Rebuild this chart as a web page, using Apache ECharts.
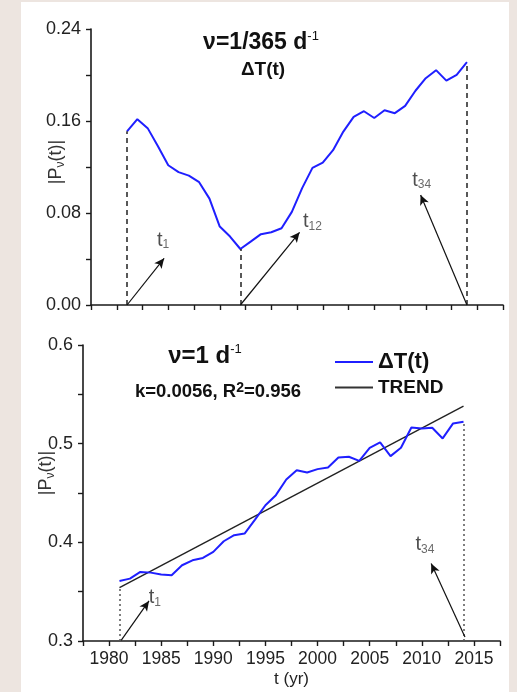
<!DOCTYPE html>
<html><head><meta charset="utf-8">
<script src="https://cdn.jsdelivr.net/npm/echarts@6/dist/echarts.min.js"></script>
<style>
html,body{margin:0;padding:0;background:#EDE5E0;overflow:hidden;}
#panel{position:absolute;left:21px;top:2px;width:488px;height:690px;background:#fff;}
#chart{position:absolute;left:0;top:0;width:517px;height:692px;}
</style></head><body><div id="panel"></div><div id="chart"></div>
<script>
const years = [1981,1982,1983,1984,1985,1986,1987,1988,1989,1990,1991,1992,1993,1994,1995,1996,1997,1998,1999,2000,2001,2002,2003,2004,2005,2006,2007,2008,2009,2010,2011,2012,2013,2014];
const annualAmp = [0.151,0.1616,0.1538,0.138,0.1215,0.1155,0.1125,0.1068,0.0925,0.0682,0.0595,0.0487,0.0551,0.0616,0.0633,0.0667,0.081,0.1016,0.1192,0.1238,0.1346,0.1508,0.1636,0.1685,0.1626,0.1693,0.1668,0.1731,0.1863,0.1972,0.2042,0.1951,0.2001,0.2112];
const dailyAmp = [0.3609,0.3632,0.370,0.3693,0.3673,0.3666,0.3768,0.3818,0.3842,0.3903,0.4011,0.4072,0.4089,0.4231,0.4376,0.4478,0.4637,0.4731,0.4708,0.4742,0.4759,0.486,0.4867,0.4826,0.4958,0.5012,0.4874,0.4958,0.5164,0.5154,0.5161,0.5053,0.5205,0.5222];
const trendYears = [1981, 2014];
const trendAmp = [0.354, 0.538];
// annotations: arrows [fromYear, fromValue, toYear, toValue]
const topArrows = [[1981,0,1984.6,0.0406],[1992,0,1997.75,0.0632],[2014,0,2009.5,0.0957]];
const topArrowLabels = [['1',1984.5,0.0565],['12',1999.0,0.0722],['34',2009.6,0.1087]];
const topMarkYears = [1981, 1992, 2014];
const botArrows = [[1981.16,0.3007,1983.83,0.3406],[2014.14,0.304,2010.9,0.3785]];
const botArrowLabels = [['1',1984.4,0.3443],['34',2010.3,0.398]];
const botMarkYears = [1981, 2014];
const botMarkTops = [trendAmp[0], dailyAmp[dailyAmp.length-1]];

const FONT = 'Liberation Sans, Arial, Helvetica, sans-serif';
const BLUE = '#1f1fff';
const AX = '#1a1a1a';

const chart = echarts.init(document.getElementById('chart'), null, {renderer:'canvas'});

function xAxis(gi, showLabels){
  return {
    type:'value', gridIndex:gi, min:1977.5, max:2017.5, interval:2.5,
    axisLine:{show:true, onZero:false, lineStyle:{color:AX, width:1.6}},
    axisTick:{show:true, length:5, lineStyle:{color:AX, width:1.4}},
    splitLine:{show:false},
    axisLabel:{show:showLabels, margin:9, color:'#222', fontSize:17.5, fontFamily:FONT,
      formatter:v => (Math.abs(v % 5) < 1e-6) ? String(Math.round(v)) : ''},
    name: showLabels ? 't (yr)' : '', nameLocation:'middle', nameGap:30,
    nameTextStyle:{color:'#222', fontSize:17, fontFamily:FONT}
  };
}

const markTop = topMarkYears.map(y => {
  const v = annualAmp[years.indexOf(y)];
  return [{coord:[y,0], symbol:'none', lineStyle:{type:[5,4], color:'#222', width:1.5}},
          {coord:[y,v], symbol:'none'}];
});
const arrowsTop = topArrows.map(a => [
  {coord:[a[0],a[1]], symbol:'none', lineStyle:{type:'solid', color:'#111', width:1.2}},
  {coord:[a[2],a[3]], symbol:'arrow'}]);
const markBot = botMarkYears.map((y,i) => [
  {coord:[y,0.3], symbol:'none', lineStyle:{type:[2,3], color:'#555', width:1.5}},
  {coord:[y,botMarkTops[i]], symbol:'none'}]);
const arrowsBot = botArrows.map(a => [
  {coord:[a[0],a[1]], symbol:'none', lineStyle:{type:'solid', color:'#111', width:1.2}},
  {coord:[a[2],a[3]], symbol:'arrow'}]);

const labelRich = {
  t:{fontSize:20, color:'#222', fontFamily:FONT, lineHeight:22},
  s:{fontSize:12, color:'#444', fontFamily:FONT, verticalAlign:'bottom', lineHeight:14, padding:[9,0,0,0]}
};
function labelSeries(xi, yi, arr){
  return {
    type:'scatter', xAxisIndex:xi, yAxisIndex:yi, symbolSize:0, silent:true,
    data: arr.map(l => ({value:[l[1], l[2]], sub:l[0]})),
    label:{show:true, position:'inside', formatter:p => '{t|t}{s|' + p.data.sub + '}', rich:labelRich}
  };
}

const option = {
  animation:false,
  grid:[{left:91, top:29, width:412, height:276}, {left:83, top:345, width:417, height:296}],
  xAxis:[xAxis(0,false), xAxis(1,true)],
  yAxis:[
    {type:'value', gridIndex:0, min:0, max:0.24, interval:0.04,
     axisLine:{show:true, lineStyle:{color:AX, width:1.6}},
     axisTick:{show:true, length:5, lineStyle:{color:AX, width:1.4}},
     splitLine:{show:false},
     axisLabel:{margin:10, color:'#222', fontSize:18, fontFamily:FONT,
       formatter:v => (Math.round(v*100) % 8 === 0) ? v.toFixed(2) : ''}},
    {type:'value', gridIndex:1, min:0.3, max:0.6, interval:0.05,
     axisLine:{show:true, lineStyle:{color:AX, width:1.6}},
     axisTick:{show:true, length:5, lineStyle:{color:AX, width:1.4}},
     splitLine:{show:false},
     axisLabel:{margin:10, color:'#222', fontSize:18, fontFamily:FONT,
       formatter:v => (Math.round(v*100) % 10 === 0) ? v.toFixed(1) : ''}}
  ],
  legend:{
    data:['ΔT(t)','TREND'], orient:'vertical', left:335, top:351, padding:0,
    itemWidth:38, itemHeight:2, icon:'rect', itemGap:5, selectedMode:false,
    formatter:n => n === 'TREND' ? '{b|TREND}' : '{a|ΔT(t)}',
    textStyle:{rich:{
      a:{fontSize:22, fontWeight:'bold', color:'#111', fontFamily:FONT, lineHeight:25},
      b:{fontSize:19, fontWeight:'bold', color:'#111', fontFamily:FONT, lineHeight:25}}}
  },
  graphic:[
    {type:'text', x:261, y:43, style:{text:'{a|ν=1/365 d}{s|-1}', align:'center', verticalAlign:'middle',
      rich:{a:{fontSize:23, fontWeight:'bold', fill:'#111', fontFamily:FONT, lineHeight:26},
            s:{fontSize:13, fill:'#111', fontFamily:FONT, verticalAlign:'top', lineHeight:26}}}},
    {type:'text', x:263, y:70, style:{text:'ΔT(t)', align:'center', verticalAlign:'middle',
      fontSize:19, fontWeight:'bold', fill:'#111', fontFamily:FONT}},
    {type:'text', x:205, y:356, style:{text:'{a|ν=1 d}{s|-1}', align:'center', verticalAlign:'middle',
      rich:{a:{fontSize:24, fontWeight:'bold', fill:'#111', fontFamily:FONT, lineHeight:27},
            s:{fontSize:13, fill:'#111', fontFamily:FONT, verticalAlign:'top', lineHeight:27}}}},
    {type:'text', x:218, y:392, style:{text:'{a|k=0.0056, R}{s|2}{a|=0.956}', align:'center', verticalAlign:'middle',
      rich:{a:{fontSize:18.5, fontWeight:'bold', fill:'#111', fontFamily:FONT, lineHeight:22},
            s:{fontSize:14, fontWeight:'bold', fill:'#111', fontFamily:FONT, verticalAlign:'top', lineHeight:22}}}},
    {type:'text', x:56, y:162, rotation:Math.PI/2, style:{text:'{a||P}{s|ν}{a|(t)|}', align:'center', verticalAlign:'middle',
      rich:{a:{fontSize:18, fill:'#333', fontFamily:FONT, lineHeight:22},
            s:{fontSize:12, fill:'#333', fontFamily:FONT, verticalAlign:'bottom', lineHeight:22}}}},
    {type:'text', x:46, y:473, rotation:Math.PI/2, style:{text:'{a||P}{s|ν}{a|(t)|}', align:'center', verticalAlign:'middle',
      rich:{a:{fontSize:18, fill:'#333', fontFamily:FONT, lineHeight:22},
            s:{fontSize:12, fill:'#333', fontFamily:FONT, verticalAlign:'bottom', lineHeight:22}}}}
  ],
  series:[
    {name:'ΔT(t) annual', type:'line', xAxisIndex:0, yAxisIndex:0, color:BLUE, showSymbol:false,
     lineStyle:{color:BLUE, width:2}, silent:true,
     data:years.map((y,i)=>[y, annualAmp[i]]),
     markLine:{silent:true, animation:false, symbolSize:[7,10], label:{show:false},
       lineStyle:{color:'#111'}, emphasis:{disabled:true},
       data: markTop.concat(arrowsTop)}},
    labelSeries(0,0,topArrowLabels),
    {name:'ΔT(t)', type:'line', xAxisIndex:1, yAxisIndex:1, color:BLUE, showSymbol:false,
     lineStyle:{color:BLUE, width:2}, silent:true, z:3,
     data:years.map((y,i)=>[y, dailyAmp[i]]),
     markLine:{silent:true, animation:false, symbolSize:[7,10], label:{show:false},
       lineStyle:{color:'#111'}, emphasis:{disabled:true},
       data: markBot.concat(arrowsBot)}},
    {name:'TREND', type:'line', xAxisIndex:1, yAxisIndex:1, color:'#333', showSymbol:false,
     lineStyle:{color:'#222', width:1.4}, silent:true, z:2,
     data:trendYears.map((y,i)=>[y, trendAmp[i]])},
    labelSeries(1,1,botArrowLabels)
  ]
};
chart.setOption(option);
</script></body></html>
